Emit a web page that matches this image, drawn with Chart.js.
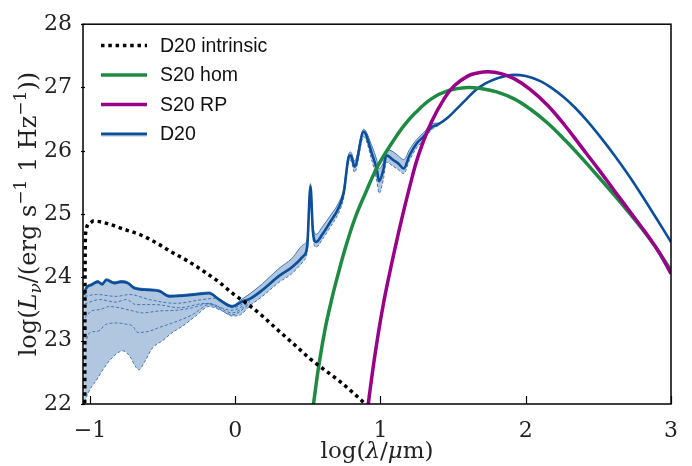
<!DOCTYPE html>
<html>
<head>
<meta charset="utf-8">
<script src="https://cdn.jsdelivr.net/npm/chart.js@4.4.1/dist/chart.umd.min.js"></script>
<style>
  html, body { margin: 0; padding: 0; background: #fff; }
</style>
</head>
<body>
<canvas id="grafico" width="692" height="466"></canvas>
<script>
// eixos
const xTicks = [-1, 0, 1, 2, 3];
const yTicks = [22, 23, 24, 25, 26, 27, 28];

// D20 intrinsic (pontilhado)
const intrX = [-1.036, -1.034, -1.03, -1.0, -0.977, -0.88, -0.765, -0.65, -0.532, -0.43, -0.327, -0.22, -0.114, -0.014, 0.096, 0.187, 0.283, 0.416, 0.518, 0.62, 0.724, 0.815, 0.868, 0.9];
const intrY = [21.9, 24.0, 24.7, 24.86, 24.89, 24.85, 24.76, 24.67, 24.53, 24.39, 24.26, 24.10, 23.93, 23.74, 23.56, 23.39, 23.19, 22.92, 22.71, 22.53, 22.35, 22.17, 22.06, 21.99];

// S20 hom
const homX = [0.52, 0.541, 0.575, 0.62, 0.667, 0.70, 0.76, 0.827, 0.90, 0.964, 1.03, 1.10, 1.17, 1.24, 1.35, 1.466, 1.60, 1.70, 1.80, 1.92, 2.03, 2.15, 2.27, 2.38, 2.5, 2.61, 2.73, 2.84, 2.92, 3.0];
const homY = [21.7, 22.04, 22.60, 23.20, 23.68, 23.98, 24.48, 24.95, 25.35, 25.68, 25.95, 26.20, 26.42, 26.60, 26.82, 26.95, 27.0, 26.98, 26.93, 26.82, 26.66, 26.44, 26.17, 25.90, 25.59, 25.30, 24.97, 24.65, 24.39, 24.11];

// S20 RP
const rpX = [0.90, 0.918, 0.952, 0.986, 1.02, 1.055, 1.10, 1.146, 1.203, 1.26, 1.35, 1.443, 1.51, 1.60, 1.67, 1.74, 1.83, 1.92, 2.03, 2.15, 2.27, 2.38, 2.5, 2.61, 2.73, 2.84, 2.92, 3.0];
const rpY = [21.7, 22.04, 22.62, 23.13, 23.58, 23.98, 24.46, 24.92, 25.45, 25.92, 26.45, 26.84, 27.03, 27.18, 27.23, 27.25, 27.22, 27.14, 26.97, 26.72, 26.40, 26.07, 25.71, 25.37, 25.00, 24.66, 24.39, 24.06];

// D20 (linha principal)
const d20X = [-1.04, -1.036, -0.991, -0.945, -0.916, -0.888, -0.831, -0.786, -0.74, -0.694, -0.591, -0.52, -0.454, -0.363, -0.272, -0.18, -0.112, -0.021, 0.048, 0.1, 0.187, 0.3, 0.39, 0.47, 0.495, 0.518, 0.535, 0.557, 0.6, 0.65, 0.712, 0.747, 0.781, 0.795, 0.822, 0.884, 0.94, 0.975, 0.99, 1.02, 1.04, 1.09, 1.123, 1.16, 1.2, 1.25, 1.295, 1.35, 1.4, 1.466, 1.52, 1.58, 1.65, 1.72, 1.81, 1.92, 2.0, 2.1, 2.18, 2.26, 2.34, 2.42, 2.52, 2.61, 2.7, 2.79, 2.9, 3.0];
const d20Y = [23.72, 23.78, 23.88, 23.93, 23.89, 23.96, 23.91, 23.93, 23.91, 23.83, 23.80, 23.78, 23.70, 23.71, 23.73, 23.75, 23.65, 23.54, 23.62, 23.66, 23.80, 24.02, 24.16, 24.34, 24.48, 25.44, 24.72, 24.56, 24.68, 24.86, 25.10, 25.34, 25.90, 25.93, 25.75, 26.30, 25.96, 25.70, 25.52, 25.70, 25.93, 25.85, 25.80, 25.72, 25.93, 26.12, 26.22, 26.37, 26.42, 26.53, 26.65, 26.79, 26.95, 27.06, 27.15, 27.2, 27.18, 27.10, 26.99, 26.85, 26.68, 26.48, 26.20, 25.93, 25.64, 25.33, 24.93, 24.56];

// faixa D20 (limites)
const loX = [-1.04, -1.036, -1.002, -0.957, -0.9, -0.843, -0.774, -0.728, -0.683, -0.664, -0.625, -0.568, -0.5, -0.432, -0.363, -0.272, -0.18, -0.089, -0.021, 0.036, 0.1, 0.187, 0.3, 0.39, 0.47, 0.495, 0.518, 0.535, 0.557, 0.6, 0.65, 0.712, 0.747, 0.781, 0.795, 0.822, 0.884, 0.94, 0.975, 0.99, 1.02, 1.04, 1.09, 1.123, 1.16, 1.2, 1.25, 1.295, 1.35, 1.4];
const loY = [21.95, 22.01, 22.22, 22.37, 22.58, 22.74, 22.84, 22.76, 22.58, 22.54, 22.66, 22.89, 23.0, 23.13, 23.23, 23.39, 23.54, 23.47, 23.39, 23.41, 23.55, 23.70, 23.92, 24.06, 24.26, 24.40, 25.30, 24.62, 24.48, 24.60, 24.78, 25.02, 25.26, 25.82, 25.85, 25.66, 26.22, 25.85, 25.52, 25.33, 25.55, 25.82, 25.75, 25.70, 25.64, 25.85, 26.05, 26.16, 26.33, 26.40];
const hiX = [-1.04, -1.036, -0.991, -0.945, -0.916, -0.888, -0.831, -0.786, -0.74, -0.694, -0.591, -0.52, -0.454, -0.363, -0.272, -0.18, -0.112, -0.021, 0.048, 0.1, 0.187, 0.3, 0.39, 0.47, 0.495, 0.518, 0.535, 0.557, 0.6, 0.65, 0.712, 0.747, 0.781, 0.795, 0.822, 0.884, 0.94, 0.975, 0.99, 1.02, 1.04, 1.09, 1.123, 1.16, 1.2, 1.25, 1.295, 1.35, 1.4];
const hiY = [23.74, 23.80, 23.90, 23.95, 23.91, 23.98, 23.93, 23.95, 23.93, 23.85, 23.82, 23.80, 23.72, 23.73, 23.75, 23.77, 23.67, 23.56, 23.66, 23.74, 23.90, 24.14, 24.30, 24.52, 24.60, 25.48, 24.82, 24.68, 24.80, 24.96, 25.18, 25.40, 25.95, 25.98, 25.84, 26.34, 26.08, 25.85, 25.72, 25.82, 26.02, 25.98, 25.92, 25.86, 26.02, 26.18, 26.28, 26.42, 26.44];

// modelos tracejados dentro da faixa
const t1X = [-1.036, -0.957, -0.82, -0.728, -0.591, -0.409, -0.226, -0.135, -0.02, 0.1];
const t1Y = [23.70, 23.73, 23.70, 23.73, 23.65, 23.59, 23.65, 23.67, 23.52, 23.64];
const t2X = [-1.036, -0.934, -0.82, -0.75, -0.683, -0.546, -0.386, -0.203, -0.021, 0.1];
const t2Y = [23.58, 23.65, 23.61, 23.65, 23.57, 23.57, 23.52, 23.59, 23.48, 23.62];
const t3X = [-1.036, -0.99, -0.934, -0.865, -0.797, -0.705, -0.637, -0.523, -0.409, -0.295, -0.18, -0.021, 0.1];
const t3Y = [23.36, 23.47, 23.49, 23.54, 23.52, 23.47, 23.44, 23.47, 23.48, 23.52, 23.59, 23.44, 23.6];
const t4X = [-1.036, -1.0, -0.945, -0.888, -0.82, -0.75, -0.705, -0.671, -0.591, -0.523, -0.432, -0.295, -0.18, -0.021, 0.1];
const t4Y = [22.95, 23.13, 23.15, 23.26, 23.28, 23.26, 23.23, 23.13, 23.15, 23.21, 23.28, 23.41, 23.57, 23.41, 23.58];

const legendaNomes = ["D20 intrinsic", "S20 hom", "S20 RP", "D20"];

const serie = (xs, ys) => xs.map((x, i) => ({ x: x, y: ys[i] }));
const azulFaixa = "#4377b8";
const corFaixa = "#b1c6df";

function tracejado(xs, ys) {
    return { label: "", data: serie(xs, ys), borderColor: azulFaixa, borderWidth: 1, borderDash: [3, 2], order: 4 };
}

// desenha texto com partes em fontes diferentes (sub/sobrescrito)
function textoMisto(ctx, partes, cx, cy) {
    var total = 0;
    partes.forEach(function (p) { ctx.font = p.f; total += ctx.measureText(p.t).width; });
    var x = cx - total / 2;
    ctx.textBaseline = "alphabetic";
    ctx.textAlign = "left";
    partes.forEach(function (p) {
        ctx.font = p.f;
        ctx.fillText(p.t, x, cy + (p.dy || 0));
        x += ctx.measureText(p.t).width;
    });
}

const moldura = {
    id: "moldura",
    afterDraw(chart) {
        const ctx = chart.ctx;
        const a = chart.chartArea;
        const sx = chart.scales.x, sy = chart.scales.y;
        ctx.save();
        ctx.strokeStyle = "#000";
        ctx.lineWidth = 1.5;
        ctx.strokeRect(a.left, a.top, a.right - a.left, a.bottom - a.top);

        ctx.lineWidth = 1.2;
        xTicks.forEach(function (v) {
            var px = Math.round(sx.getPixelForValue(v)) + 0.5;
            ctx.beginPath(); ctx.moveTo(px, a.bottom); ctx.lineTo(px, a.bottom - 8); ctx.stroke();
        });
        yTicks.forEach(function (v) {
            var py = Math.round(sy.getPixelForValue(v)) + 0.5;
            ctx.beginPath(); ctx.moveTo(a.left - 2, py); ctx.lineTo(a.left + 2, py); ctx.stroke();
        });

        // legenda
        legendaNomes.forEach(function (nome, i) {
            var ds = chart.data.datasets.find(function (d) { return d.label === nome; });
            var yy = 45.5 + i * 29.5;
            if (nome === "D20") {
                ctx.fillStyle = corFaixa;
                ctx.fillRect(101, yy - 2, 46, 4.5);
            }
            ctx.beginPath();
            ctx.setLineDash(ds.borderDash || []);
            ctx.strokeStyle = ds.borderColor;
            ctx.lineWidth = ds.borderWidth;
            ctx.moveTo(101, yy); ctx.lineTo(147, yy);
            ctx.stroke();
            ctx.setLineDash([]);
            ctx.fillStyle = "#111";
            ctx.font = "19.5px 'Liberation Sans'";
            ctx.textBaseline = "middle";
            ctx.textAlign = "left";
            ctx.fillText(nome, 160, yy + 1);
        });

        // titulos dos eixos
        ctx.fillStyle = "#222";
        var serif = "'DejaVu Serif'";
        textoMisto(ctx, [
            { t: "log(", f: "23px " + serif },
            { t: "λ", f: "italic 23px " + serif },
            { t: "/", f: "23px " + serif },
            { t: "μ", f: "italic 23px " + serif },
            { t: "m)", f: "23px " + serif }
        ], (a.left + a.right) / 2, 458);

        ctx.translate(36, (a.top + a.bottom) / 2);
        ctx.rotate(-Math.PI / 2);
        textoMisto(ctx, [
            { t: "log(", f: "24px " + serif },
            { t: "L", f: "italic 24px " + serif },
            { t: "ν", f: "italic 17px " + serif, dy: 5 },
            { t: "/(erg s", f: "24px " + serif },
            { t: "−1", f: "17px " + serif, dy: -10 },
            { t: " 1 Hz", f: "24px " + serif },
            { t: "−1", f: "17px " + serif, dy: -10 },
            { t: "))", f: "24px " + serif }
        ], 0, 0);
        ctx.restore();
    }
};

var ctx = document.getElementById("grafico").getContext("2d");
var myChart = new Chart(ctx, {
    type: "line",
    data: {
        datasets: [
            { label: "D20 intrinsic", data: serie(intrX, intrY), borderColor: "#000", borderWidth: 3.5, borderDash: [3.5, 3.8], order: 0 },
            { label: "S20 RP", data: serie(rpX, rpY), borderColor: "#990088", borderWidth: 3.5, order: 1, cubicInterpolationMode: "default", tension: 0.4 },
            { label: "S20 hom", data: serie(homX, homY), borderColor: "#1e8a43", borderWidth: 3.5, order: 2, cubicInterpolationMode: "default", tension: 0.4 },
            { label: "D20", data: serie(d20X, d20Y), borderColor: "#0b4f9b", borderWidth: 2.6, order: 3 },
            tracejado(t1X, t1Y),
            tracejado(t2X, t2Y),
            tracejado(t3X, t3Y),
            tracejado(t4X, t4Y),
            { label: "", data: serie(loX, loY), borderColor: azulFaixa, borderWidth: 1, borderDash: [3, 2], order: 5 },
            { label: "", data: serie(hiX, hiY), borderColor: azulFaixa, borderWidth: 1, fill: "-1", backgroundColor: corFaixa, order: 6 }
        ]
    },
    options: {
        responsive: false,
        animation: false,
        devicePixelRatio: 1,
        layout: { padding: { left: 0, right: 18, top: 19, bottom: 0 } },
        elements: {
            point: { radius: 0 },
            line: { cubicInterpolationMode: "monotone", fill: false }
        },
        plugins: { legend: { display: false }, tooltip: { enabled: false } },
        scales: {
            x: {
                type: "linear",
                min: -1.048,
                max: 3,
                afterBuildTicks: function (s) { s.ticks = xTicks.map(function (v) { return { value: v }; }); },
                afterFit: function (s) { s.height = 62; },
                grid: { display: false, drawTicks: false },
                border: { display: false },
                ticks: {
                    padding: 14,
                    color: "#222",
                    font: { family: "DejaVu Serif", size: 22 },
                    callback: function (v) { return v < 0 ? "\u2212" + Math.abs(v) : String(v); }
                }
            },
            y: {
                type: "linear",
                min: 22,
                max: 28,
                afterBuildTicks: function (s) { s.ticks = yTicks.map(function (v) { return { value: v }; }); },
                afterFit: function (s) { s.width = 83; },
                grid: { display: false, drawTicks: false },
                border: { display: false },
                ticks: {
                    padding: 11,
                    color: "#222",
                    font: { family: "DejaVu Serif", size: 22 }
                }
            }
        }
    },
    plugins: [moldura]
});
</script>
</body>
</html>
